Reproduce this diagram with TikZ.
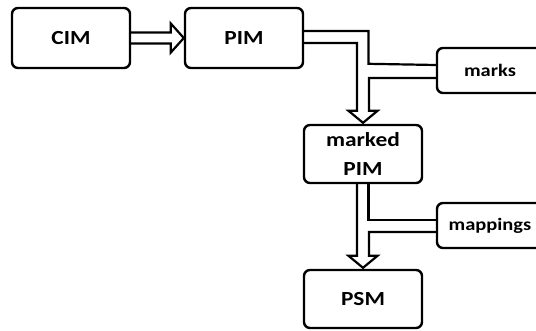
\documentclass[tikz,border=0pt]{standalone}
\usepackage{fontspec}
\setmainfont[FakeStretch=1.17]{Carlito}
\usetikzlibrary{calc}
\begin{document}
\begin{tikzpicture}[x=1pt,y=-1pt,
  box/.style={draw=black, line width=2.4pt, rounded corners=6pt, fill=white,
    inner sep=0pt, font=\bfseries\fontsize{20}{29}\selectfont, align=center},
  smallbox/.style={box, font=\bfseries\fontsize{17.5}{20}\selectfont},
  conn/.style={draw=black, line width=2.2pt, line join=miter}]
\clip (0,0) rectangle (536,331);
\fill[white] (0,0) rectangle (536,331);
\node[box, minimum width=118pt, minimum height=60pt] (cim) at (71,38) {CIM};
\node[box, minimum width=118pt, minimum height=60pt] (pim) at (244,38) {PIM};
\node[box, minimum width=118pt, minimum height=58pt] (mpim) at (363,154) {marked\\PIM};
\node[box, minimum width=118pt, minimum height=58pt] (psm) at (363,299) {PSM};
\node[smallbox, minimum width=112pt, minimum height=45pt] (marks) at (493,70.5) {\hspace*{-6pt}marks};
\node[smallbox, minimum width=112pt, minimum height=45pt] (mappings) at (493,225.5) {\hspace*{-6pt}mappings};
% CIM -> PIM
\draw[conn] ($(cim.east)+(0,-5.5)$) -- ($(pim.west)+(-13,-5.5)$) -- ($(pim.west)+(-13,-14.5)$)
  -- (pim.west) -- ($(pim.west)+(-13,14.5)$) -- ($(pim.west)+(-13,5.5)$) -- ($(cim.east)+(0,5.5)$);
% PIM + marks -> marked PIM
\draw[conn] ($(pim.east)+(0,-7)$) -| ($(mpim.north)+(5.5,-60)$) -- ($(marks.west)+(0,-5.5)$);
\draw[conn] ($(pim.east)+(0,5)$) -| ($(mpim.north)+(-6,-13)$) -- ($(mpim.north)+(-14.5,-13)$)
  -- ($(mpim.north)+(0,-1)$) -- ($(mpim.north)+(14.5,-13)$) -- ($(mpim.north)+(6,-13)$)
  |- ($(marks.west)+(0,7.5)$);
% marked PIM + mappings -> PSM
\draw[conn] ($(mpim.south)+(5.5,0)$) |- ($(mappings.west)+(0,-5.5)$);
\draw[conn] ($(mpim.south)+(-6,0)$) -- ($(psm.north)+(-6,-13)$) -- ($(psm.north)+(-14.5,-13)$)
  -- ($(psm.north)+(0,-1)$) -- ($(psm.north)+(14.5,-13)$) -- ($(psm.north)+(6,-13)$)
  |- ($(mappings.west)+(0,6.5)$);
\end{tikzpicture}
\end{document}
